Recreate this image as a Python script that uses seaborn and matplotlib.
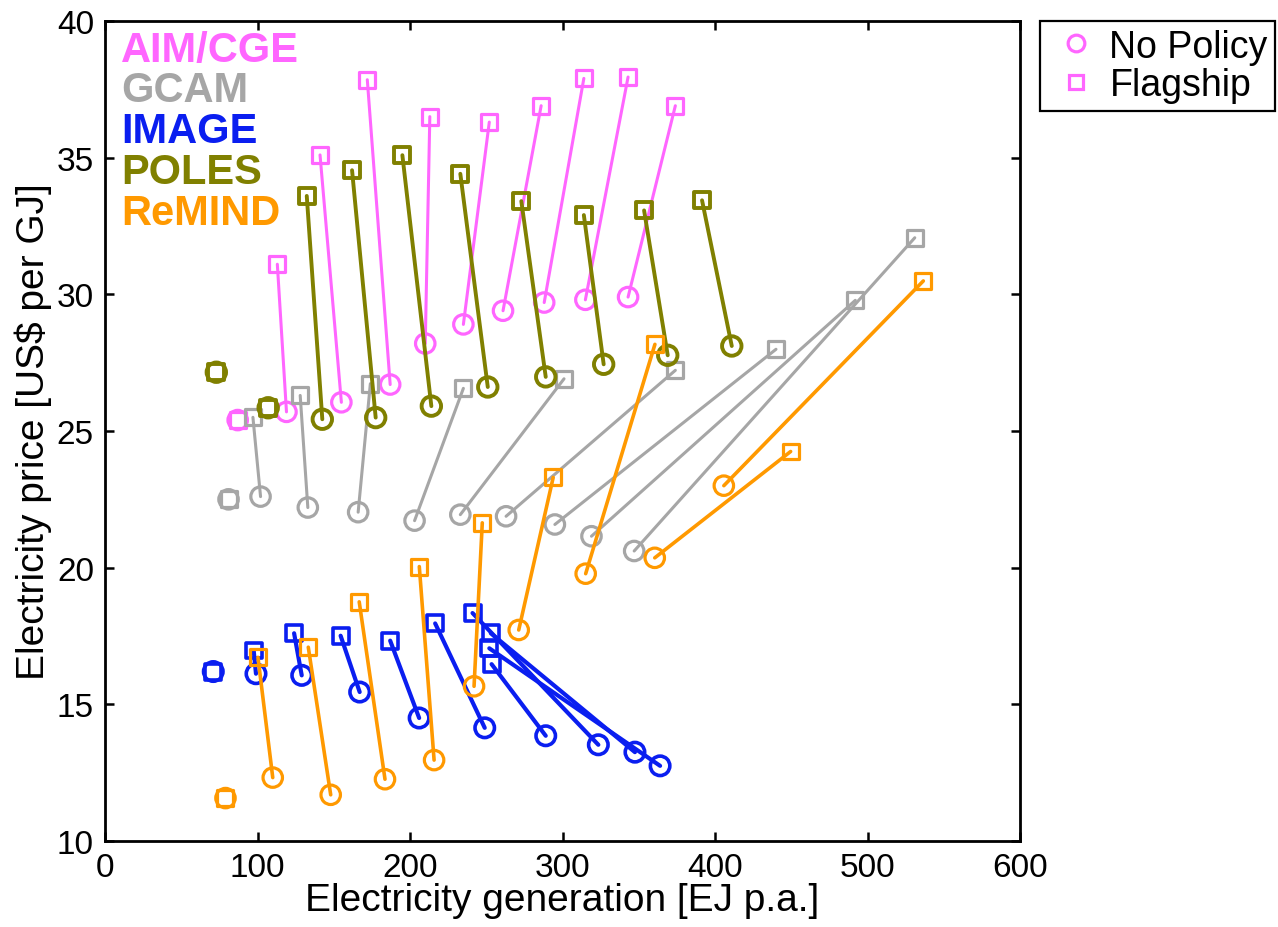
import numpy as np
import pandas as pd
import matplotlib
matplotlib.use("Agg")
import matplotlib.pyplot as plt
import seaborn as sns
from matplotlib.lines import Line2D

# ---------------- data ----------------
models = ["AIM/CGE", "GCAM", "IMAGE", "POLES", "ReMIND"]
scenarios = ["No Policy", "Flagship"]

aim_np_gen = [87, 119, 155, 187, 210, 235, 261, 288, 315, 343]
aim_np_price = [25.4, 25.7, 26.05, 26.7, 28.2, 28.9, 29.4, 29.7, 29.8, 29.9]
aim_fl_gen = [87, 113, 141, 172, 213, 252, 286, 314, 343, 374]
aim_fl_price = [25.4, 31.1, 35.1, 37.85, 36.5, 36.3, 36.9, 37.9, 37.95, 36.9]

gcam_np_gen = [81, 102, 133, 166, 203, 233, 263, 295, 319, 347]
gcam_np_price = [22.5, 22.6, 22.2, 22.03, 21.72, 21.94, 21.88, 21.58, 21.15, 20.61]
gcam_fl_gen = [81, 97, 128, 174, 235, 301, 374, 440, 492, 531]
gcam_fl_price = [22.5, 25.5, 26.3, 26.73, 26.56, 26.91, 27.22, 27.99, 29.78, 32.07]

image_np_gen = [71, 99, 129, 167, 206, 249, 289, 323.5, 347.5, 364]
image_np_price = [16.2, 16.12, 16.06, 15.45, 14.5, 14.14, 13.85, 13.52, 13.25, 12.75]
image_fl_gen = [71, 97.5, 124, 154.5, 187, 216.5, 253.5, 241, 253, 252]
image_fl_price = [16.2, 16.97, 17.6, 17.51, 17.33, 17.96, 16.47, 18.34, 17.6, 17.05]

poles_np_gen = [73, 107, 142.5, 177.5, 214, 251, 289, 327, 369, 411]
poles_np_price = [27.15, 25.85, 25.43, 25.49, 25.91, 26.61, 26.98, 27.44, 27.77, 28.11]
poles_fl_gen = [73, 107, 132.3, 162, 195, 233, 273, 314, 353.5, 391.5]
poles_fl_price = [27.15, 25.85, 33.6, 34.54, 35.09, 34.41, 33.41, 32.9, 33.07, 33.44]

remind_np_gen = [79, 110, 148, 183.6, 215.8, 242, 271.3, 315.2, 360.5, 405.8]
remind_np_price = [11.57, 12.32, 11.69, 12.26, 12.96, 15.66, 17.72, 19.78, 20.36, 23.0]
remind_fl_gen = [79, 100.3, 133.3, 166.7, 206.1, 247.4, 293.9, 360.6, 449.6, 536.6]
remind_fl_price = [11.57, 16.72, 17.09, 18.75, 20.04, 21.64, 23.3, 28.17, 24.25, 30.49]

x_ticks = [0, 100, 200, 300, 400, 500, 600]
y_ticks = [10, 15, 20, 25, 30, 35, 40]

# ---------------- styling ----------------
colors = {"AIM/CGE": "#FF66FF", "GCAM": "#A6A6A6", "IMAGE": "#0A1EF0",
          "POLES": "#808000", "ReMIND": "#FF9900"}
line_w = {"AIM/CGE": 2.2, "GCAM": 2.2, "IMAGE": 3.0, "POLES": 2.8, "ReMIND": 2.6}
edge_w = {"AIM/CGE": 2.3, "GCAM": 2.3, "IMAGE": 2.6, "POLES": 2.8, "ReMIND": 2.3}

raw = {
    "AIM/CGE": (aim_np_gen, aim_np_price, aim_fl_gen, aim_fl_price),
    "GCAM": (gcam_np_gen, gcam_np_price, gcam_fl_gen, gcam_fl_price),
    "IMAGE": (image_np_gen, image_np_price, image_fl_gen, image_fl_price),
    "POLES": (poles_np_gen, poles_np_price, poles_fl_gen, poles_fl_price),
    "ReMIND": (remind_np_gen, remind_np_price, remind_fl_gen, remind_fl_price),
}
rows = []
for m in models:
    ng, npr, fg, fp = raw[m]
    for i in range(len(ng)):
        rows.append(dict(model=m, step=i, scenario="No Policy", gen=ng[i], price=npr[i]))
        rows.append(dict(model=m, step=i, scenario="Flagship", gen=fg[i], price=fp[i]))
df = pd.DataFrame(rows)

sns.set_style("ticks")
plt.rcParams["font.family"] = ["Liberation Sans", "DejaVu Sans"]
plt.rcParams.update({"text.color": "black", "axes.labelcolor": "black",
                     "xtick.color": "black", "ytick.color": "black",
                     "axes.edgecolor": "black"})

fig = plt.figure(figsize=(12.78, 9.28), dpi=100)
ax = fig.add_axes([105 / 1278, 1 - 842 / 928, 915 / 1278, 820 / 928])

for i, m in enumerate(models):
    sub = df[df.model == m]
    c = colors[m]
    sns.lineplot(data=sub, x="gen", y="price", units="step", estimator=None,
                 sort=False, color=c, lw=line_w[m], ax=ax, legend=False,
                 zorder=2 + 2 * i)
    sns.scatterplot(data=sub[sub.scenario == "No Policy"], x="gen", y="price",
                    marker="o", s=14 ** 2, color=c, facecolor="none", edgecolor=c,
                    linewidth=edge_w[m], ax=ax, legend=False, zorder=3 + 2 * i)
    sns.scatterplot(data=sub[sub.scenario == "Flagship"], x="gen", y="price",
                    marker="s", s=11.5 ** 2, color=c, facecolor="none", edgecolor=c,
                    linewidth=edge_w[m], ax=ax, legend=False, zorder=3 + 2 * i)

# model labels
baselines_px = [62, 102, 143, 184, 225]
for m, b in zip(models, baselines_px):
    ax.text(0.0175, (842 - b) / 820, m, transform=ax.transAxes, color=colors[m],
            fontsize=30, fontweight="bold", ha="left", va="baseline", zorder=20)

ax.set_xlim(0, 600)
ax.set_ylim(10, 40)
ax.set_xticks(x_ticks)
ax.set_yticks(y_ticks)
ax.set_xticklabels([str(v) for v in x_ticks])
ax.set_yticklabels([str(v) for v in y_ticks])
ax.tick_params(direction="in", length=6.5, width=1.8, top=True, right=True,
               labelsize=24, pad=8, colors="black")
for s in ax.spines.values():
    s.set_linewidth(2.0)
    s.set_color("black")
    s.set_visible(True)

ax.set_xlabel("Electricity generation [EJ p.a.]", fontsize=28, color="black")
ax.set_ylabel("Electricity price [US$ per GJ]", fontsize=28, color="black")
ax.xaxis.set_label_coords(0.5, -0.05)
ax.yaxis.set_label_coords(-0.058, 0.5)

handles = [Line2D([], [], ls="none", marker="o", markersize=12, mfc="none",
                  mec=colors["AIM/CGE"], mew=2.3),
           Line2D([], [], ls="none", marker="s", markersize=10.5, mfc="none",
                  mec=colors["AIM/CGE"], mew=2.3)]
leg = ax.legend(handles, scenarios, loc="upper left", bbox_to_anchor=(1.0219, 1.0),
                borderaxespad=0, frameon=True, fancybox=False, fontsize=27,
                handlelength=1.5, handletextpad=0.15, borderpad=0.2,
                labelspacing=0.08)
leg.get_frame().set_edgecolor("black")
leg.get_frame().set_linewidth(1.6)
leg.get_frame().set_alpha(1)
for t in leg.get_texts():
    t.set_color("black")

fig.savefig("out.png", dpi=100)
